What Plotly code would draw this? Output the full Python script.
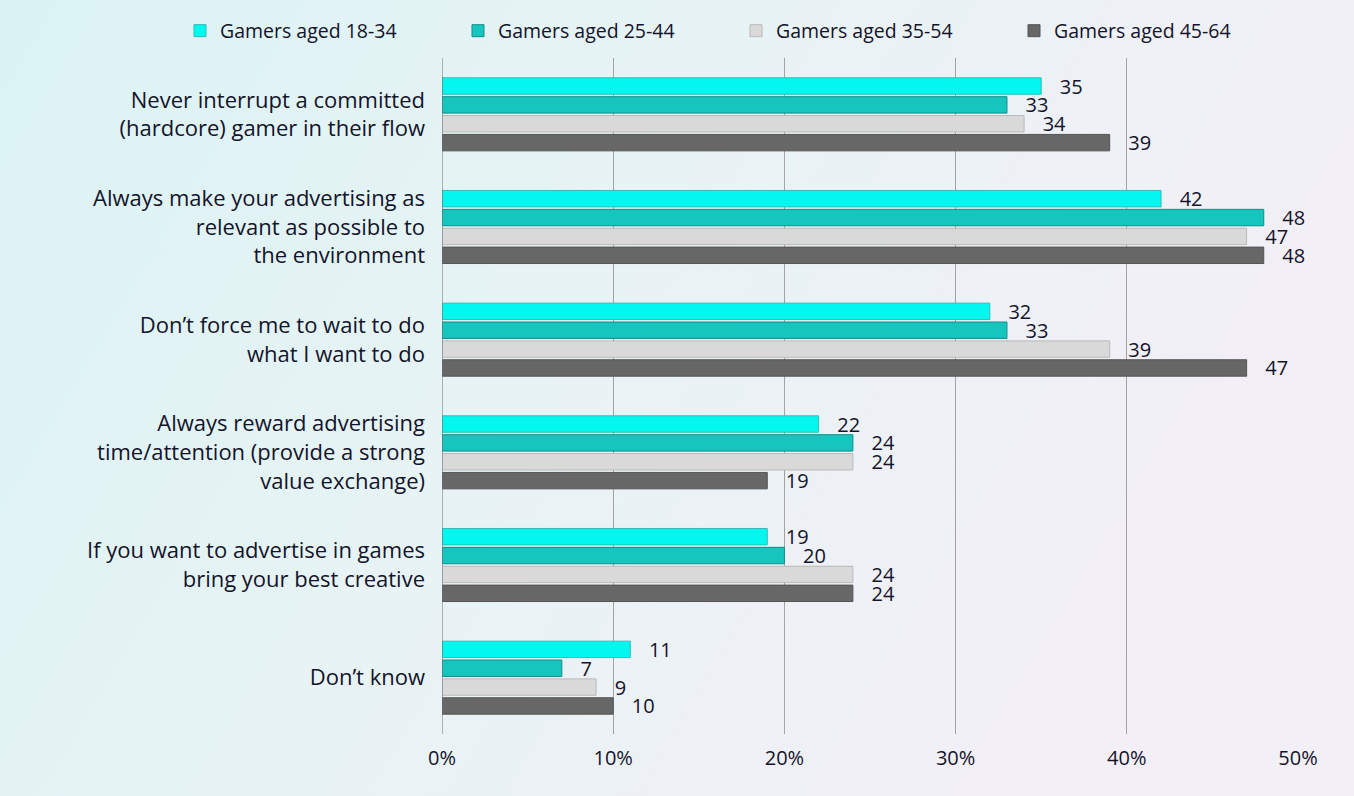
import base64
import plotly.graph_objects as go

categories = [
    "Never interrupt a committed<br>(hardcore) gamer in their flow",
    "Always make your advertising as<br>relevant as possible to<br>the environment",
    "Don’t force me to wait to do<br>what I want to do",
    "Always reward advertising<br>time/attention (provide a strong<br>value exchange)",
    "If you want to advertise in games<br>bring your best creative",
    "Don’t know",
]
series_names = ["Gamers aged 18-34", "Gamers aged 25-44", "Gamers aged 35-54", "Gamers aged 45-64"]
values_18_34 = [35, 42, 32, 22, 19, 11]
values_25_44 = [33, 48, 33, 24, 20, 7]
values_35_54 = [34, 47, 39, 24, 24, 9]
values_45_64 = [39, 48, 47, 19, 24, 10]
tick_vals = [0, 10, 20, 30, 40, 50]
tick_text = ["0%", "10%", "20%", "30%", "40%", "50%"]

series_values = [values_18_34, values_25_44, values_35_54, values_45_64]
colors = ["#03F7EE", "#16C5BD", "#D9D9D9", "#676767"]
edge = ["#2FBDB8", "#0E8F8A", "#B9B9B9", "#555555"]

FONT = "Open Sans"
TXT = "#14142A"

fig = go.Figure()
for name, vals, c, e in zip(series_names, series_values, colors, edge):
    fig.add_trace(go.Bar(
        y=categories, x=vals, name=name, orientation="h",
        marker=dict(color=c, line=dict(color=e, width=1)),
        text=[f"   {v}" for v in vals], textposition="outside",
        constraintext="none",
        textfont=dict(family=FONT, size=20, color=TXT),
        cliponaxis=False,
    ))

svg = ('<svg xmlns="http://www.w3.org/2000/svg" width="1354" height="796">'
       '<defs><linearGradient id="g" x1="0" y1="0" x2="1" y2="0.35">'
       '<stop offset="0" stop-color="#DBF3F4"/>'
       '<stop offset="0.5" stop-color="#E8F3F5"/>'
       '<stop offset="1" stop-color="#F3EFF6"/></linearGradient></defs>'
       '<rect width="1354" height="796" fill="url(#g)"/></svg>')
src = "data:image/svg+xml;base64," + base64.b64encode(svg.encode()).decode()

L, R, T, B = 442, 56, 58, 62
W, H = 1354, 796
pw, ph = W - L - R, H - T - B

fig.update_layout(
    width=W, height=H,
    margin=dict(l=L, r=R, t=T, b=B),
    paper_bgcolor="rgba(0,0,0,0)", plot_bgcolor="rgba(0,0,0,0)",
    barmode="group", bargap=0.33, bargroupgap=0.13,
    font=dict(family=FONT, color=TXT),
    images=[dict(source=src, xref="paper", yref="paper",
                 x=-L / pw, y=1 + T / ph, sizex=W / pw, sizey=H / ph,
                 sizing="stretch", layer="below", xanchor="left", yanchor="top")],
    legend=dict(orientation="h", x=(180 - L) / pw, xanchor="left",
                y=1 + (T - 31) / ph, yanchor="middle",
                font=dict(family=FONT, size=19.5, color=TXT),
                entrywidth=233, entrywidthmode="pixels",
                bgcolor="rgba(0,0,0,0)", traceorder="normal"),
    xaxis=dict(range=[0, 50], tickvals=tick_vals, ticktext=tick_text,
               showgrid=True, gridcolor="#A3A3A3", gridwidth=1,
               zeroline=False, showline=False, ticks="",
               tickfont=dict(family=FONT, size=20, color=TXT),
               ticklabelstandoff=10),
    yaxis=dict(autorange="reversed", showgrid=False, zeroline=False,
               ticks="", tickfont=dict(family=FONT, size=22, color=TXT),
               ticklabelstandoff=16),
    showlegend=True,
)
fig.add_vline(x=0, line=dict(color="#6F6F6F", width=1))

fig.write_html("out.html", config={"displayModeBar": False},
               post_script="document.body.style.margin='0';document.body.style.overflow='hidden';")
